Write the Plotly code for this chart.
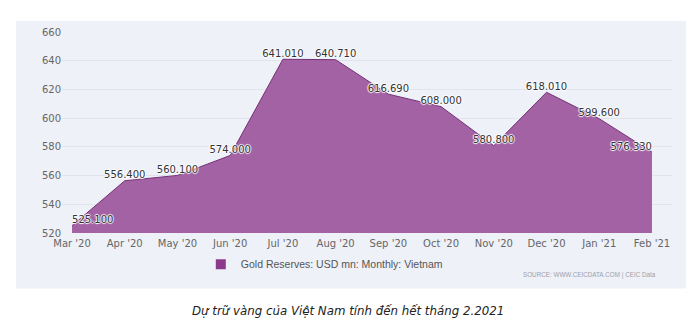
import plotly.graph_objects as go

months = ["Mar '20", "Apr '20", "May '20", "Jun '20", "Jul '20", "Aug '20",
          "Sep '20", "Oct '20", "Nov '20", "Dec '20", "Jan '21", "Feb '21"]
gold_reserves = [525.100, 556.400, 560.100, 574.000, 641.010, 640.710,
                 616.690, 608.000, 580.800, 618.010, 599.600, 576.330]
y_ticks = [520, 540, 560, 580, 600, 620, 640, 660]

series_name = "Gold Reserves: USD mn: Monthly: Vietnam"
source_text = "SOURCE: WWW.CEICDATA.COM | CEIC Data"
caption = "Dự trữ vàng của Việt Nam tính đến hết tháng 2.2021"

x_idx = list(range(len(months)))
labels = [f"{v:.3f}" for v in gold_reserves]
text_pos = ["top center"] * len(months)
text_pos[0] = "top right"
text_pos[-1] = "top left"

fill_color = "rgb(163,98,163)"
line_color = "rgb(118,48,118)"
panel_color = "#eef1f8"
grid_color = "#e1e4ed"

fig = go.Figure()
fig.add_trace(go.Scatter(
    x=x_idx, y=gold_reserves,
    mode="lines+text",
    fill="tozeroy",
    fillcolor=fill_color,
    line=dict(color=line_color, width=1),
    text=labels,
    textposition=text_pos,
    textfont=dict(family="DejaVu Sans", size=10, color="#333333",
                  shadow="1px 0px 1px #ffffff, -1px 0px 1px #ffffff, 0px 1px 1px #ffffff, 0px -1px 1px #ffffff"),
    showlegend=False,
    hoverinfo="skip",
    cliponaxis=False,
))
# legend entry
fig.add_trace(go.Scatter(
    x=[None], y=[None], mode="markers",
    marker=dict(symbol="square", size=10, color="rgb(140,58,140)"),
    name=series_name, showlegend=True,
))

fig.update_layout(
    width=700, height=334,
    margin=dict(l=62, r=28, t=32, b=101),
    paper_bgcolor="white",
    plot_bgcolor=panel_color,
    showlegend=True,
    legend=dict(orientation="h", x=0.43, xanchor="center", y=-0.156, yanchor="middle",
                bgcolor="rgba(0,0,0,0)",
                font=dict(family="Liberation Sans", size=10.5, color="#555555"),
                itemwidth=30),
    xaxis=dict(
        range=[-0.19, 11.38],
        tickmode="array", tickvals=x_idx, ticktext=months,
        showgrid=False, zeroline=False, showline=False, ticks="",
        ticklabelstandoff=3,
        tickfont=dict(family="DejaVu Sans", size=10, color="#666666"),
        fixedrange=True,
    ),
    yaxis=dict(
        range=[520, 660],
        tickmode="array", tickvals=y_ticks,
        showgrid=True, gridcolor=grid_color, gridwidth=1,
        zeroline=False, showline=False, ticks="",
        tickfont=dict(family="DejaVu Sans", size=10, color="#666666"),
        fixedrange=True,
    ),
    shapes=[dict(type="rect", xref="paper", yref="paper",
                 x0=-0.0754, x1=1.023, y0=-0.2755, y1=1.055,
                 fillcolor=panel_color, line=dict(width=0), layer="below")],
    annotations=[
        dict(text=source_text, xref="paper", yref="paper", x=0.977, y=-0.211,
             xanchor="right", yanchor="middle", showarrow=False,
             font=dict(family="Liberation Sans", size=6.3, color="#a0a0a8")),
        dict(text=f"<i>{caption}</i>", xref="paper", yref="paper", x=0.469, y=-0.39,
             xanchor="center", yanchor="middle", showarrow=False,
             font=dict(family="DejaVu Sans", size=11.8, color="#222222")),
    ],
)

fig.write_html("out.html")
